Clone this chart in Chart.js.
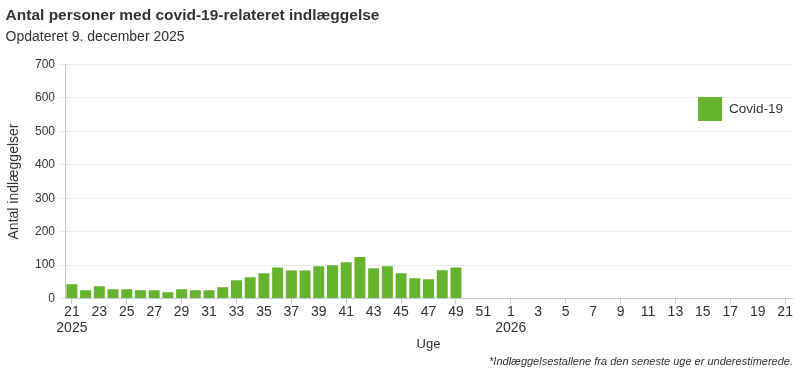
<!DOCTYPE html>
<html>
<head>
<meta charset="utf-8">
<script src="https://cdn.jsdelivr.net/npm/chart.js@4"></script>
<style>
    html, body { margin: 0; padding: 0; background: #fff; }
    #wrap { width: 800px; height: 375px; }
</style>
</head>
<body>
<div id="wrap"><canvas id="myChart"></canvas></div>
<script>
// uger 21/2025 .. 21/2026
const weeks2025 = [21, 22, 23, 24, 25, 26, 27, 28, 29, 30, 31, 32, 33, 34, 35, 36,
    37, 38, 39, 40, 41, 42, 43, 44, 45, 46, 47, 48, 49, 50, 51, 52];
const weeks2026 = [1, 2, 3, 4, 5, 6, 7, 8, 9, 10, 11, 12, 13, 14, 15, 16, 17, 18, 19, 20, 21];
const yearLabels = { 0: '2025', 32: '2026' };

const covidValues = [43, 25, 37, 28, 28, 25, 25, 19, 28, 25, 25, 34, 55, 64, 76, 93,
    84, 84, 97, 100, 109, 124, 91, 97, 76, 61, 58, 85, 93];

const yTicks = [0, 100, 200, 300, 400, 500, 600, 700];

const labels = weeks2025.concat(weeks2026).map(String);

const green = '#66b32e';
const textColor = '#333333';

Chart.defaults.font.family = '"Liberation Sans", Arial, sans-serif';
Chart.defaults.color = textColor;

// legende + fodnote tegnes selv
const extras = {
    id: 'extras',
    afterDraw(chart) {
        const ctx = chart.ctx;
        ctx.save();
        ctx.fillStyle = green;
        ctx.fillRect(698, 97, 24, 24);
        ctx.fillStyle = textColor;
        ctx.font = '13.5px "Liberation Sans", Arial, sans-serif';
        ctx.textBaseline = 'middle';
        ctx.textAlign = 'left';
        ctx.fillText(chart.data.datasets[0].label, 729, 109);
        ctx.font = 'italic 11px "Liberation Sans", Arial, sans-serif';
        ctx.textAlign = 'right';
        ctx.fillText('*Indlæggelsestallene fra den seneste uge er underestimerede.', 793, 362);
        ctx.restore();
    }
};

const data = {
    labels: labels,
    datasets: [{
        label: 'Covid-19',
        data: covidValues,
        backgroundColor: green,
        borderWidth: 0,
        barPercentage: 0.8,
        categoryPercentage: 1.0
    }]
};

const config = {
    type: 'bar',
    data: data,
    plugins: [extras],
    options: {
        responsive: true,
        maintainAspectRatio: false,
        animation: false,
        layout: {
            padding: { left: 5.6, right: 8, top: 0, bottom: 23 }
        },
        plugins: {
            legend: { display: false },
            tooltip: { enabled: false },
            title: {
                display: true,
                text: 'Antal personer med covid-19-relateret indlæggelse',
                align: 'start',
                color: textColor,
                font: { size: 15.5, weight: 'bold' },
                padding: { top: 6, bottom: 4 }
            },
            subtitle: {
                display: true,
                text: 'Opdateret 9. december 2025',
                align: 'start',
                color: textColor,
                font: { size: 14 },
                padding: { top: 0, bottom: 19 }
            }
        },
        scales: {
            x: {
                offset: true,
                grid: {
                    offset: false,
                    drawOnChartArea: false,
                    tickLength: 5,
                    color: function(c) { return c.index % 2 === 0 ? '#c8c8c8' : 'rgba(0,0,0,0)'; }
                },
                border: { color: '#c8c8c8', width: 1 },
                ticks: {
                    autoSkip: false,
                    maxRotation: 0,
                    padding: 1,
                    font: { size: 14, lineHeight: 1.1 },
                    callback: function(value, index) {
                        if (index % 2 !== 0) return null;
                        const l = labels[index];
                        return yearLabels[index] ? [l, yearLabels[index]] : l;
                    }
                },
                title: {
                    display: true,
                    text: 'Uge',
                    font: { size: 13 },
                    padding: { top: 0, bottom: 0 }
                }
            },
            y: {
                min: 0,
                max: 700,
                afterBuildTicks: function(axis) {
                    axis.ticks = yTicks.map(v => ({ value: v }));
                },
                grid: {
                    color: '#ececec',
                    tickLength: 6
                },
                border: { color: '#c8c8c8', width: 1 },
                ticks: {
                    padding: 4,
                    font: { size: 12 }
                },
                title: {
                    display: true,
                    text: 'Antal indlæggelser',
                    font: { size: 14 },
                    padding: { top: 0, bottom: 8.6 }
                }
            }
        }
    }
};

const myChart = new Chart(document.getElementById('myChart'), config);
</script>
</body>
</html>
